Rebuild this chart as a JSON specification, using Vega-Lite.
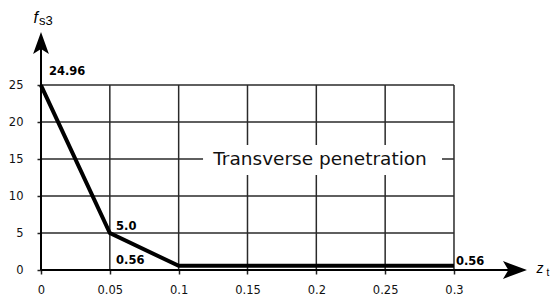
{
  "$schema": "https://vega.github.io/schema/vega-lite/v6.json",
  "width": 511,
  "height": 270,
  "autosize": "none",
  "padding": {"left": 41, "top": 0, "right": 0, "bottom": 29},
  "background": "white",
  "config": {
    "view": {"stroke": null},
    "font": "DejaVu Sans",
    "axis": {
      "domain": false,
      "grid": false,
      "ticks": true,
      "tickSize": 4,
      "tickColor": "#222",
      "tickWidth": 1.5,
      "labelFont": "DejaVu Sans",
      "labelFontSize": 11.5,
      "labelColor": "#111",
      "title": null
    }
  },
  "datasets": {
    "curve": [
      {"x": 0, "y": 24.96},
      {"x": 0.05, "y": 5.0},
      {"x": 0.1, "y": 0.56},
      {"x": 0.3, "y": 0.56}
    ],
    "vgrid": [
      {"x": 0.05, "y": 0, "y2": 25},
      {"x": 0.1, "y": 0, "y2": 25},
      {"x": 0.15, "y": 0, "y2": 25},
      {"x": 0.2, "y": 0, "y2": 25},
      {"x": 0.25, "y": 0, "y2": 25},
      {"x": 0.3, "y": 0, "y2": 25}
    ],
    "hgrid": [
      {"y": 5, "x": 0, "x2": 0.3},
      {"y": 10, "x": 0, "x2": 0.3},
      {"y": 15, "x": 0, "x2": 0.3},
      {"y": 20, "x": 0, "x2": 0.3},
      {"y": 25, "x": 0, "x2": 0.3}
    ],
    "labels": [
      {"x": 0.0058, "y": 26.76, "t": "24.96"},
      {"x": 0.0545, "y": 5.81, "t": "5.0"},
      {"x": 0.0545, "y": 1.22, "t": "0.56"},
      {"x": 0.3014, "y": 1.08, "t": "0.56"}
    ]
  },
  "encoding": {
    "x": {
      "field": "x",
      "type": "quantitative",
      "scale": {"domain": [0, 0.3712], "nice": false, "zero": false},
      "axis": {"values": [0, 0.05, 0.1, 0.15, 0.2, 0.25, 0.3], "format": "~g", "labelPadding": 10, "labelFlush": false}
    },
    "y": {
      "field": "y",
      "type": "quantitative",
      "scale": {"domain": [0, 36.49], "nice": false, "zero": false},
      "axis": {"values": [0, 5, 10, 15, 20, 25], "labelPadding": 14}
    }
  },
  "layer": [
    {
      "data": {"name": "vgrid"},
      "mark": {"type": "rule", "color": "#2a2a2a", "strokeWidth": 1.5},
      "encoding": {"y2": {"field": "y2"}}
    },
    {
      "data": {"name": "hgrid"},
      "mark": {"type": "rule", "color": "#2a2a2a", "strokeWidth": 1.5},
      "encoding": {"x2": {"field": "x2"}}
    },
    {
      "data": {"values": [{"x": 0.1177, "x2": 0.2913, "y": 12.84, "y2": 16.9}]},
      "mark": {"type": "rect", "color": "white"},
      "encoding": {"x2": {"field": "x2"}, "y2": {"field": "y2"}}
    },
    {
      "data": {"values": [{"x": 0.2027, "y": 15, "t": "Transverse penetration"}]},
      "mark": {"type": "text", "fontSize": 18.5, "align": "center", "baseline": "middle", "color": "#111", "font": "DejaVu Sans"},
      "encoding": {"text": {"field": "t"}}
    },
    {
      "data": {"values": [{"x": 0, "y": 0, "x2": 0.344, "y2": 0}, {"x": 0, "y": 0, "x2": 0, "y2": 30.5}]},
      "mark": {"type": "rule", "color": "black", "strokeWidth": 2},
      "encoding": {"x2": {"field": "x2"}, "y2": {"field": "y2"}}
    },
    {
      "data": {"name": "curve"},
      "mark": {"type": "line", "color": "black", "strokeWidth": 4, "strokeJoin": "miter", "strokeCap": "butt"},
      "encoding": {}
    },
    {
      "data": {"name": "labels"},
      "mark": {"type": "text", "fontSize": 11.5, "fontWeight": "bold", "align": "left", "baseline": "middle", "color": "black", "font": "DejaVu Sans"},
      "encoding": {"text": {"field": "t"}}
    },
    {
      "data": {"values": [{"x": 0.3443, "y": 0}]},
      "mark": {"type": "point", "filled": true, "color": "black", "opacity": 1, "size": 576, "shape": "M1,0L-1,-0.75L-0.55,0L-1,0.75Z"},
      "encoding": {}
    },
    {
      "data": {"values": [{"x": 0, "y": 30.68}]},
      "mark": {"type": "point", "filled": true, "color": "black", "opacity": 1, "size": 484, "shape": "M0,-1L-0.72,1L0,0.55L0.72,1Z"},
      "encoding": {}
    },
    {
      "data": {"values": [{"x": 0, "y": 33.4, "t": "f"}]},
      "mark": {"type": "text", "fontSize": 16, "fontStyle": "italic", "align": "right", "baseline": "alphabetic", "dx": -3, "color": "black", "font": "Liberation Sans"},
      "encoding": {"text": {"field": "t"}}
    },
    {
      "data": {"values": [{"x": 0, "y": 33.4, "t": "s3"}]},
      "mark": {"type": "text", "fontSize": 13, "align": "left", "baseline": "alphabetic", "dx": -2, "dy": 2, "color": "black", "font": "Liberation Sans"},
      "encoding": {"text": {"field": "t"}}
    },
    {
      "data": {"values": [{"x": 0.36, "y": 0, "t": "z"}]},
      "mark": {"type": "text", "fontSize": 14, "fontStyle": "italic", "align": "left", "baseline": "alphabetic", "dy": 3, "color": "black", "font": "Liberation Sans"},
      "encoding": {"text": {"field": "t"}}
    },
    {
      "data": {"values": [{"x": 0.3672, "y": 0, "t": "t"}]},
      "mark": {"type": "text", "fontSize": 10, "align": "left", "baseline": "alphabetic", "dy": 6, "color": "black", "font": "Liberation Sans"},
      "encoding": {"text": {"field": "t"}}
    }
  ]
}
